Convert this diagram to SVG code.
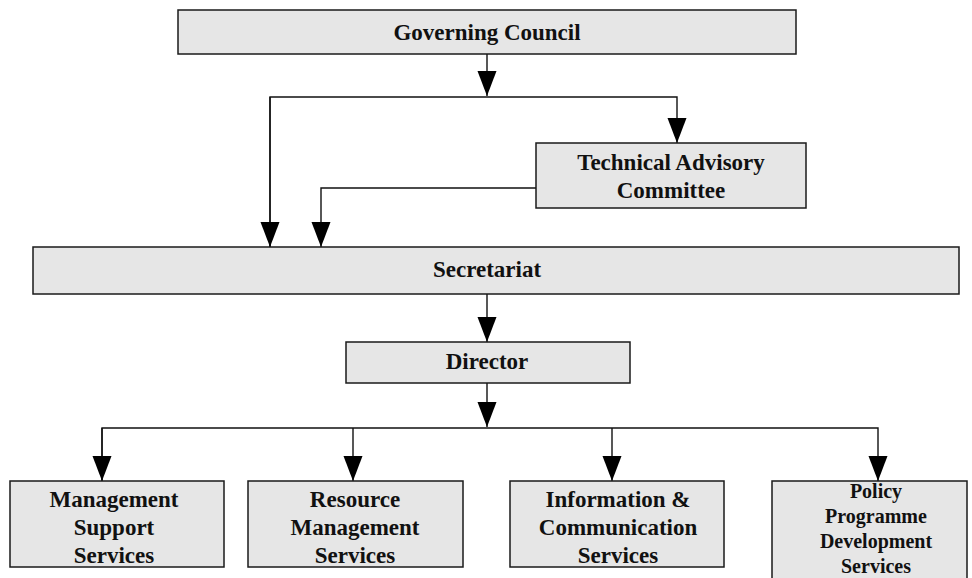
<svg xmlns="http://www.w3.org/2000/svg" width="972" height="578" viewBox="0 0 972 578">
<style>
.box{fill:#e6e6e6;stroke:#1a1a1a;stroke-width:1.5}
.t{font-family:"Liberation Serif","Times New Roman",serif;font-weight:bold;font-size:23px;fill:#111;text-anchor:middle}
.s{font-size:20px}
.c{fill:none;stroke:#111;stroke-width:1.4}
</style>
<defs>
<marker id="ah" markerUnits="userSpaceOnUse" markerWidth="26" markerHeight="20" refX="25" refY="9.5" orient="auto" viewBox="0 0 26 20">
<path d="M0,0 L25,9.5 L0,19 z" fill="#000"/>
</marker>
</defs>
<rect width="972" height="578" fill="#fff"/>
<g id="connectors">
<path class="c" d="M487,54 V96" marker-end="url(#ah)"/>
<path class="c" d="M270,247 V97 H677 V143" marker-end="url(#ah)"/>
<path class="c" d="M270,97 V247" marker-end="url(#ah)"/>
<path class="c" d="M536,188 H321 V247" marker-end="url(#ah)"/>
<path class="c" d="M487,294 V342" marker-end="url(#ah)"/>
<path class="c" d="M487,383 V427" marker-end="url(#ah)"/>
<path class="c" d="M102,481 V428 H878 V481" marker-end="url(#ah)"/>
<path class="c" d="M102,428 V481" marker-end="url(#ah)"/>
<path class="c" d="M353,428 V481" marker-end="url(#ah)"/>
<path class="c" d="M612,428 V481" marker-end="url(#ah)"/>
</g>
<g id="governing-council">
<rect class="box" x="178" y="10" width="618" height="44"/>
<text class="t" x="487" y="40">Governing Council</text>
</g>
<g id="technical-advisory-committee">
<rect class="box" x="536" y="143" width="270" height="65"/>
<text class="t" x="671" y="170">Technical Advisory</text>
<text class="t" x="671" y="198">Committee</text>
</g>
<g id="secretariat">
<rect class="box" x="33" y="247" width="926" height="47"/>
<text class="t" x="487" y="277">Secretariat</text>
</g>
<g id="director">
<rect class="box" x="346" y="342" width="284" height="41"/>
<text class="t" x="487" y="369">Director</text>
</g>
<g id="management-support-services">
<rect class="box" x="10" y="481" width="214" height="86"/>
<text class="t" x="114" y="507">Management</text>
<text class="t" x="114" y="535">Support</text>
<text class="t" x="114" y="563">Services</text>
</g>
<g id="resource-management-services">
<rect class="box" x="248" y="481" width="215" height="86"/>
<text class="t" x="355" y="507">Resource</text>
<text class="t" x="355" y="535">Management</text>
<text class="t" x="355" y="563">Services</text>
</g>
<g id="information-communication-services">
<rect class="box" x="510" y="481" width="214" height="86"/>
<text class="t" x="618" y="507">Information &amp;</text>
<text class="t" x="618" y="535">Communication</text>
<text class="t" x="618" y="563">Services</text>
</g>
<g id="policy-programme-development-services">
<rect class="box" x="772" y="481" width="195" height="110"/>
<text class="t s" x="876" y="498">Policy</text>
<text class="t s" x="876" y="523">Programme</text>
<text class="t s" x="876" y="548">Development</text>
<text class="t s" x="876" y="573">Services</text>
</g>
</svg>
